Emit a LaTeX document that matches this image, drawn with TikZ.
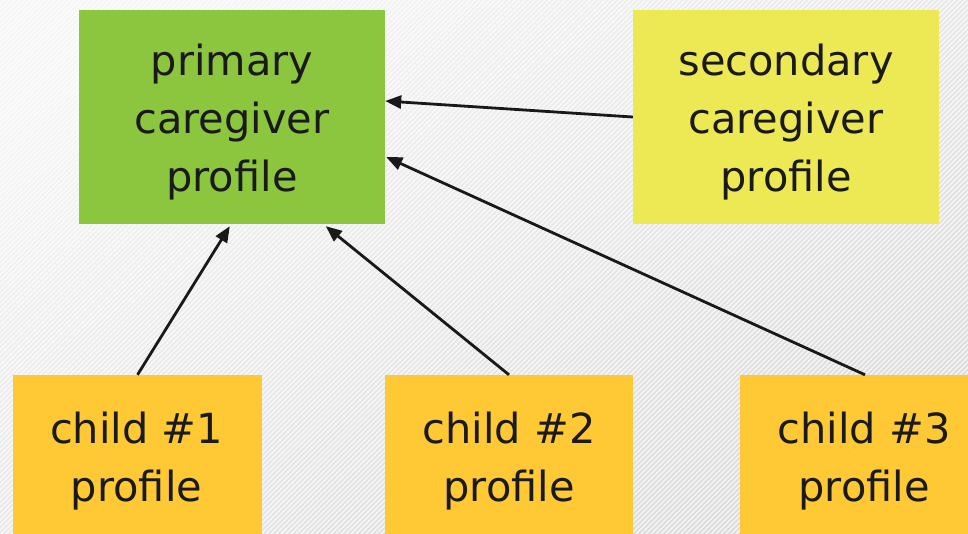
\documentclass[tikz,border=0pt]{standalone}
\usepackage{fontspec}
\setmainfont{DejaVu Sans}
\usetikzlibrary{arrows.meta,calc}
\definecolor{primgreen}{HTML}{8CC63F}
\definecolor{secyellow}{HTML}{EDE955}
\definecolor{childorange}{HTML}{FFC835}
\definecolor{txt}{HTML}{1A1A1A}
\begin{document}
\begin{tikzpicture}[x=1pt,y=-1pt,
  box/.style={draw=none, inner sep=0pt, align=center, text=txt,
    font=\fontsize{41.5}{58}\selectfont},
  conn/.style={line width=2.8pt, draw=black!90,
    -{Triangle[length=16pt,width=13pt]}}]
\useasboundingbox (0,0) rectangle (968,533);
\begin{scope}
\clip (0,0) rectangle (968,533);
\shade[top color=black!4, bottom color=black!15, shading angle=30] (-20,-20) rectangle (990,560);
\foreach \i in {-560,-555,...,980} {
  \draw[white, line width=1.6pt, opacity=0.7] (\i,540) -- ({\i+545},-5);
}
\node[box, fill=primgreen, minimum width=306pt, minimum height=214pt] (prim) at (232,117) {};
\node[box, fill=secyellow, minimum width=306pt, minimum height=214pt] (sec) at (786,117) {};
\node[box] (tp) at (232,122) {primary\\caregiver\\profile};
\node[box] (ts) at (786,122) {secondary\\caregiver\\profile};
\node[box, fill=childorange, minimum width=249pt, minimum height=170pt] (c1) at (137.5,460) {};
\node[box, fill=childorange, minimum width=248pt, minimum height=170pt] (c2) at (509,460) {};
\node[box, fill=childorange, minimum width=250pt, minimum height=170pt] (c3) at (865,460) {};
\node[box] (t1) at (136.5,461) {child \#1\\profile};
\node[box] (t2) at (509,461) {child \#2\\profile};
\node[box] (t3) at (864,461) {child \#3\\profile};
\end{scope}
\draw[conn] (sec.west) -- ($(prim.east)+(0,-16)$);
\draw[conn] (c3.north) -- ($(prim.east)+(1,40)$);
\draw[conn] (c1.north) -- ($(prim.south west)+(151,2)$);
\draw[conn] (c2.north) -- ($(prim.south west)+(247,2)$);
\end{tikzpicture}
\end{document}
